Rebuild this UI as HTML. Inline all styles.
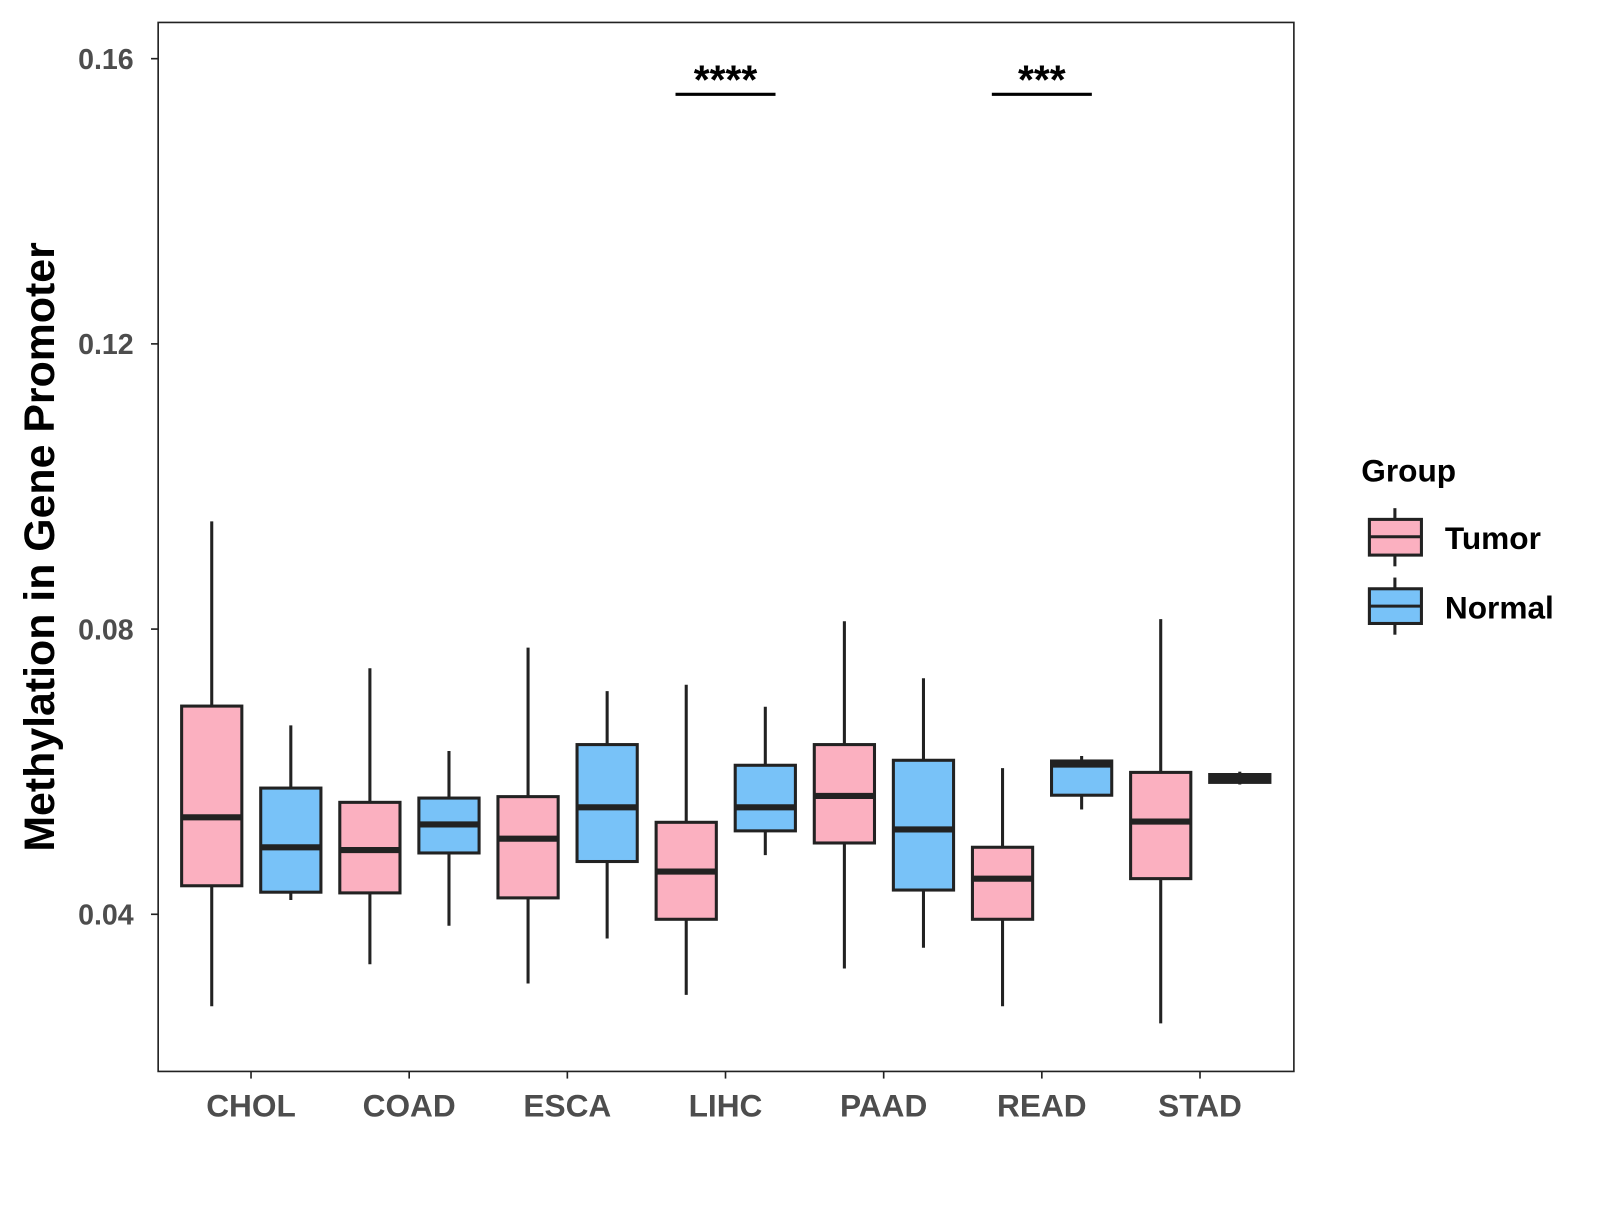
<!DOCTYPE html>
<html><head><meta charset="utf-8"><style>
body{margin:0;background:#fff}
svg text{font-family:"Liberation Sans",Arial,sans-serif;font-weight:bold}
</style></head><body>
<svg id="chart" width="1600" height="1200" viewBox="0 0 1568 1176">
<rect x="0" y="0" width="1568" height="1176" fill="#fff"/>
<g id="plot"></g>
<rect x="155" y="22" width="1113" height="1028" fill="none" stroke="#222" stroke-width="1.6"/>
<text transform="translate(53,536) rotate(-90)" text-anchor="middle" font-size="42" fill="#000">Methylation in Gene Promoter</text>
<text x="1334" y="472" font-size="31" fill="#000">Group</text>
<g>
<line x1="1367" y1="498" x2="1367" y2="555" stroke="#222" stroke-width="3"/>
<rect x="1342" y="509" width="51" height="35" fill="#FBB0C0" stroke="#222" stroke-width="3"/>
<line x1="1342" y1="526" x2="1393" y2="526" stroke="#222" stroke-width="3"/>
<text x="1416" y="538" font-size="31" fill="#000">Tumor</text></g>
<g>
<line x1="1367" y1="566" x2="1367" y2="622" stroke="#222" stroke-width="3"/>
<rect x="1342" y="577" width="51" height="34" fill="#78C2F8" stroke="#222" stroke-width="3"/>
<line x1="1342" y1="594" x2="1393" y2="594" stroke="#222" stroke-width="3"/>
<text x="1416" y="606" font-size="31" fill="#000">Normal</text></g>
</svg>
<script>
const categories=["CHOL","COAD","ESCA","LIHC","PAAD","READ","STAD"];
const tumorStats=[[0.0271,0.0440,0.0536,0.0692,0.0951],[0.0330,0.0430,0.0490,0.0557,0.0745],[0.0303,0.0423,0.0506,0.0565,0.0774],[0.0287,0.0393,0.0460,0.0529,0.0722],[0.0324,0.0500,0.0566,0.0638,0.0811],[0.0271,0.0393,0.0450,0.0494,0.0605],[0.0247,0.0450,0.0530,0.0599,0.0814]];
const normalStats=[[0.0420,0.0431,0.0494,0.0577,0.0665],[0.0384,0.0486,0.0526,0.0563,0.0629],[0.0366,0.0474,0.0550,0.0638,0.0713],[0.0483,0.0517,0.0550,0.0609,0.0691],[0.0353,0.0434,0.0519,0.0616,0.0731],[0.0547,0.0567,0.0610,0.0615,0.0622],[0.0582,0.0585,0.0590,0.0596,0.0600]];
const yTicks=[0.04,0.08,0.12,0.16];
const yTickLabels=["0.04","0.08","0.12","0.16"];
const sigCats=["LIHC","READ"];
const sigLabels=["****","***"];
const sigLevel=0.155;

const NS="http://www.w3.org/2000/svg";
const g=document.getElementById('plot');
function y(v){return 896-(v-0.04)*6987.5;}
function x(i){return 246+i*155;}
function mk(tag,a,parent){const e=document.createElementNS(NS,tag);for(const k in a)e.setAttribute(k,a[k]);(parent||g).appendChild(e);return e;}
yTicks.forEach((t,i)=>{
 const tk=mk('line',{x1:148,x2:155,y1:y(t),y2:y(t),stroke:'#222','stroke-width':1.6});
 
 
 const tx=mk('text',{x:131,y:y(t)+10,'text-anchor':'end','font-size':28,fill:'#4d4d4d'});
 tx.textContent=yTickLabels[i];
 
 
});
categories.forEach((c,i)=>{
 const tk=mk('line',{x1:x(i),x2:x(i),y1:1050,y2:1057,stroke:'#222','stroke-width':1.6});
 
 
 const tx=mk('text',{x:x(i),y:1094,'text-anchor':'middle','font-size':31,fill:'#4d4d4d'});
 tx.textContent=c;
 
 
});
function box(cx,s,fill,name){
 const bg=mk('g',{});
 
 
 const w=59;
 mk('line',{x1:cx,x2:cx,y1:y(s[0]),y2:y(s[4]),stroke:'#222','stroke-width':3},bg);
 mk('rect',{x:cx-w/2,y:y(s[3]),width:w,height:Math.max(1,y(s[1])-y(s[3])),fill:fill,stroke:'#222','stroke-width':3},bg);
 mk('line',{x1:cx-w/2,x2:cx+w/2,y1:y(s[2]),y2:y(s[2]),stroke:'#222','stroke-width':6},bg);
}
categories.forEach((c,i)=>{
 box(x(i)-38.5,tumorStats[i],'#FBB0C0','box-tumor-'+c.toLowerCase());
 box(x(i)+39,normalStats[i],'#78C2F8','box-normal-'+c.toLowerCase());
});
sigCats.forEach((c,k)=>{
 const i=categories.indexOf(c);
 const l=mk('line',{x1:x(i)-49,x2:x(i)+49,y1:y(sigLevel),y2:y(sigLevel),stroke:'#000','stroke-width':3});
 
 
 const t=mk('text',{x:x(i),y:y(sigLevel)-1,'text-anchor':'middle','font-size':40,fill:'#000'});
 t.textContent=sigLabels[k];
 
 
});
</script>
</body></html>
